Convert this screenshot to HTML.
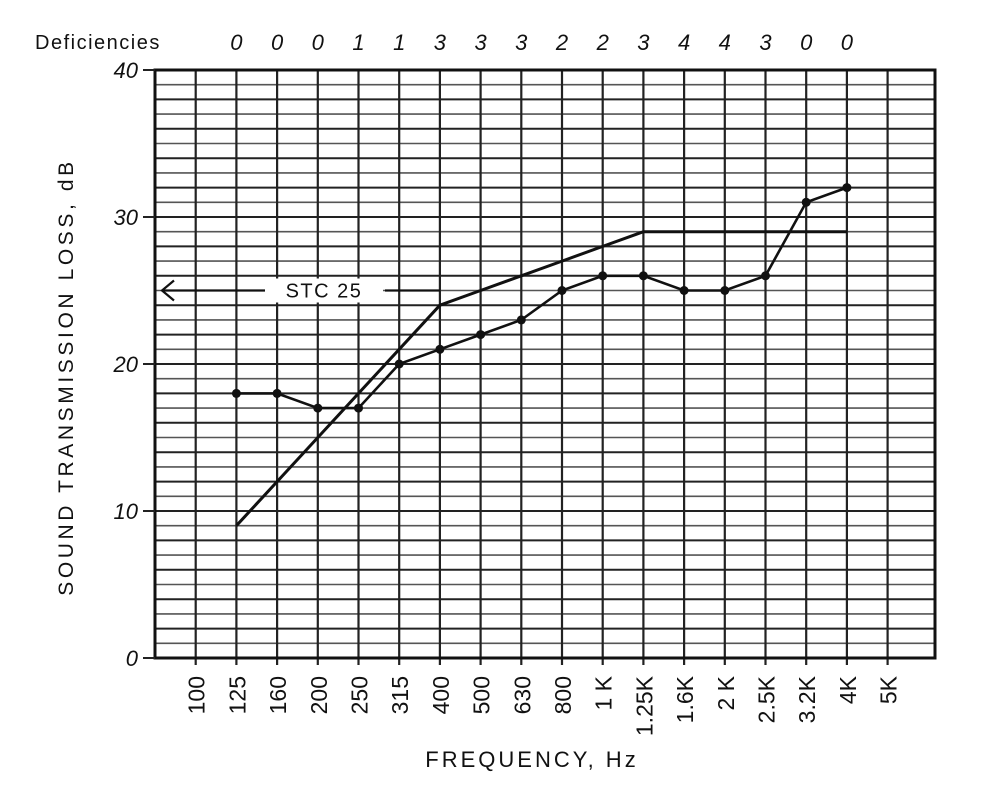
<!DOCTYPE html>
<html><head><meta charset="utf-8"><style>
html,body{margin:0;padding:0;background:#fff;}
svg{display:block;font-family:"Liberation Sans",sans-serif;}
</style></head><body>
<svg width="1006" height="792" viewBox="0 0 1006 792">
<script>
(function(){
var ns="http://www.w3.org/2000/svg",svg=document.querySelector("svg");
function el(t,a,txt){var e=document.createElementNS(ns,t);for(var k in a)e.setAttribute(k,a[k]);if(txt!==undefined)e.textContent=txt;svg.appendChild(e);return e;}
var L=155,R=935,T=70,B=658,dx=40.7,py=(B-T)/40;
function X(i){return L+dx*i;} function Y(v){return B-v*py;}
for(var v=1;v<40;v++){el("line",{x1:L,x2:R,y1:Y(v),y2:Y(v),stroke:v%2?"#555":"#222","stroke-width":v%2?1.6:2});}
for(var i=1;i<19;i++){el("line",{x1:X(i),x2:X(i),y1:T,y2:B+7,stroke:"#222","stroke-width":2.2});}
el("rect",{x:L,y:T,width:R-L,height:B-T,fill:"none",stroke:"#111","stroke-width":3});
[0,10,20,30,40].forEach(function(v){el("line",{x1:143,x2:L,y1:Y(v),y2:Y(v),stroke:"#222","stroke-width":2});
el("text",{x:138,y:Y(v)+8,"text-anchor":"end","font-size":22,"font-style":"italic",fill:"#111"},String(v));});
var f=["100","125","160","200","250","315","400","500","630","800","1 K","1.25K","1.6K","2 K","2.5K","3.2K","4K","5K"];
f.forEach(function(s,j){var x=X(j+1)+9;el("text",{x:0,y:0,transform:"translate("+x+",676) rotate(-90)","text-anchor":"end","font-size":23,fill:"#111"},s);});
el("text",{x:35,y:49,"font-size":20,"letter-spacing":1.5,fill:"#111"},"Deficiencies");
var d=[0,0,0,1,1,3,3,3,2,2,3,4,4,3,0,0];
d.forEach(function(n,j){el("text",{x:X(j+2),y:50,"text-anchor":"middle","font-size":22,"font-style":"italic",fill:"#111"},String(n));});
el("text",{x:0,y:0,transform:"translate(73,377) rotate(-90)","text-anchor":"middle","font-size":21,"letter-spacing":3.6,fill:"#111"},"SOUND TRANSMISSION LOSS, dB");
el("text",{x:532,y:767,"text-anchor":"middle","font-size":22,"letter-spacing":3,fill:"#111"},"FREQUENCY, Hz");
var c=[[2,9],[3,12],[4,15],[5,18],[6,21],[7,24],[8,25],[9,26],[10,27],[11,28],[12,29],[17,29]];
el("polyline",{points:c.map(function(p){return X(p[0])+","+Y(p[1]);}).join(" "),fill:"none",stroke:"#111","stroke-width":3});
var t=[18,18,17,17,20,21,22,23,25,26,26,25,25,26,31,32];
el("polyline",{points:t.map(function(v,j){return X(j+2)+","+Y(v);}).join(" "),fill:"none",stroke:"#111","stroke-width":2.6});
t.forEach(function(v,j){el("circle",{cx:X(j+2),cy:Y(v),r:4.5,fill:"#111"});});
var y25=Y(25);
el("rect",{x:265,y:y25-12,width:118,height:24,fill:"#fff"});
el("line",{x1:162,x2:265,y1:y25,y2:y25,stroke:"#111","stroke-width":2.2});
el("line",{x1:385,x2:X(7),y1:y25,y2:y25,stroke:"#111","stroke-width":2.2});
el("polyline",{points:"174,"+(y25-10)+" 162,"+y25+" 174,"+(y25+10),fill:"none",stroke:"#111","stroke-width":2.2});
el("text",{x:324,y:y25+7,"text-anchor":"middle","font-size":20,"letter-spacing":1.5,fill:"#111"},"STC 25");
})();
</script>
</svg>
</body></html>
